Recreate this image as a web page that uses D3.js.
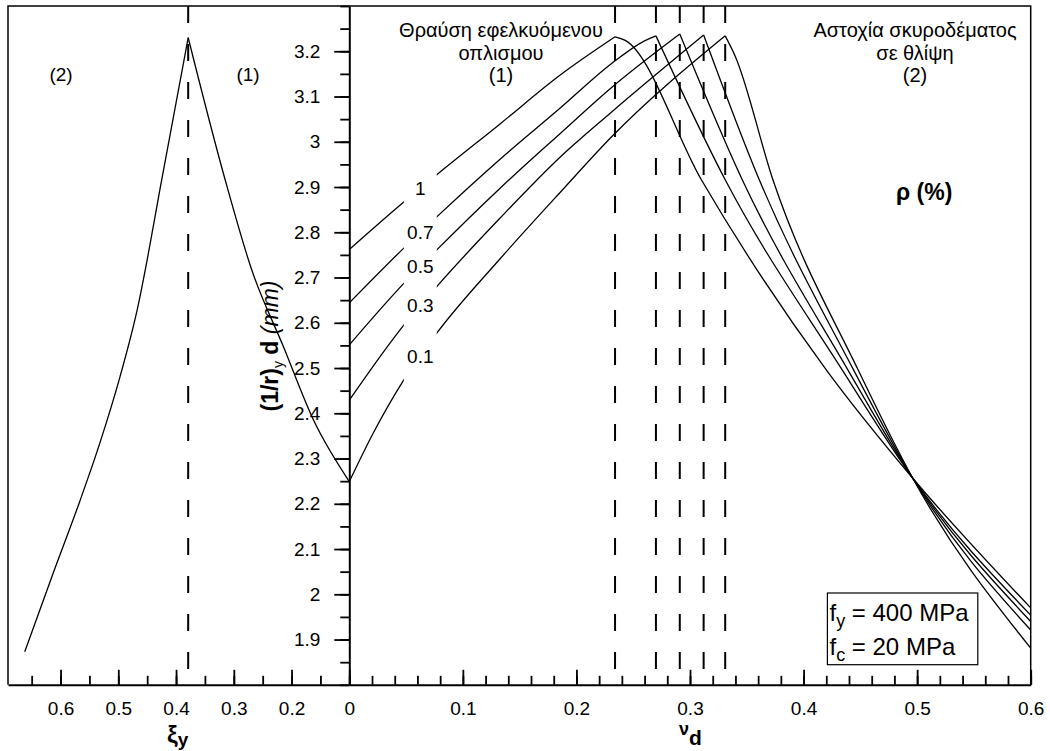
<!DOCTYPE html>
<html>
<head>
<meta charset="utf-8">
<script src="https://cdn.jsdelivr.net/npm/d3@7"></script>
<style>
    body { margin: 0; background: #fff; }
    svg text { font-family: "Liberation Sans", Arial, sans-serif; fill: #000; }
</style>
</head>
<body>
<div id="container"></div>
<script>
'use strict';

//Right panel: curves per reinforcement ratio, [nu_d, (1/r)y d]
const rhoLabels = ['1', '0.7', '0.5', '0.3', '0.1'];
const curveRho1 = [[0, 2.762], [0.048, 2.867], [0.077, 2.927], [0.133, 3.040], [0.186, 3.148], [0.234, 3.232], [0.243, 3.224], [0.310, 2.916], [0.420, 2.496], [0.496, 2.257], [0.600, 1.970]];
const curveRho07 = [[0, 2.644], [0.048, 2.765], [0.077, 2.834], [0.133, 2.962], [0.186, 3.075], [0.231, 3.173], [0.260, 3.223], [0.270, 3.234], [0.331, 2.916], [0.434, 2.496], [0.496, 2.257], [0.600, 1.954]];
const curveRho05 = [[0, 2.551], [0.048, 2.687], [0.077, 2.761], [0.133, 2.898], [0.186, 3.019], [0.231, 3.120], [0.291, 3.238], [0.346, 2.916], [0.439, 2.496], [0.496, 2.257], [0.600, 1.940]];
const curveRho03 = [[0, 2.429], [0.048, 2.595], [0.077, 2.680], [0.133, 2.832], [0.186, 2.967], [0.231, 3.066], [0.312, 3.236], [0.361, 2.916], [0.444, 2.496], [0.496, 2.257], [0.600, 1.921]];
const curveRho01 = [[0, 2.249], [0.021, 2.356], [0.048, 2.474], [0.077, 2.577], [0.133, 2.742], [0.186, 2.889], [0.231, 3.011], [0.331, 3.234], [0.340, 3.188], [0.373, 2.916], [0.448, 2.496], [0.496, 2.257], [0.600, 1.881]];
const curves = [curveRho1, curveRho07, curveRho05, curveRho03, curveRho01];
const peakNu = [0.234, 0.270, 0.291, 0.312, 0.331];
const labelGap = [0.048, 0.077];

//Left panel: [xi_y, (1/r)y d]
const branchConcrete = [[0.662, 1.873], [0.613, 2.046], [0.566, 2.208], [0.532, 2.334], [0.497, 2.481], [0.466, 2.636], [0.450, 2.739], [0.428, 2.894], [0.379, 3.230]];
const branchSteel = [[0.379, 3.230], [0.315, 2.916], [0.269, 2.717], [0.214, 2.547], [0.162, 2.385], [0.100, 2.249]];
const peakXi = [0.379];

//Tick labels
const yTicks = [1.9, 2, 2.1, 2.2, 2.3, 2.4, 2.5, 2.6, 2.7, 2.8, 2.9, 3, 3.1, 3.2];
const nuTicks = [0, 0.1, 0.2, 0.3, 0.4, 0.5, 0.6];
const xiTicks = [0.6, 0.5, 0.4, 0.3, 0.2];

//Sizing
const VIZ = {
    WIDTH: 1050,
    HEIGHT: 751,
    LEFT: 8,
    SPLIT: 349.3,
    RIGHT: 1030.7,
    TOP: 6,
    BOTTOM: 684.8,
};
const FONT = 19;

const svg = d3.select('#container')
    .append('svg')
    .attr('width', VIZ.WIDTH)
    .attr('height', VIZ.HEIGHT);

//Scales
const xNu = d3.scaleLinear().domain([0, 0.6]).range([VIZ.SPLIT, VIZ.RIGHT]);
const xXi = d3.scaleLinear().domain([0.1, 0.691]).range([VIZ.SPLIT, VIZ.LEFT]);
const y = d3.scaleLinear().domain([1.8, 3.3]).range([VIZ.BOTTOM, VIZ.TOP]);

//Frame
svg.append('path')
    .attr('d', `M${VIZ.LEFT},${VIZ.BOTTOM}V${VIZ.TOP}H${VIZ.RIGHT}V${VIZ.BOTTOM}`)
    .attr('fill', 'none')
    .attr('stroke', '#000')
    .attr('stroke-width', 1.5);

//Gap in the curves where the rho labels sit
const defs = svg.append('defs');
const mask = defs.append('mask').attr('id', 'gap');
mask.append('rect').attr('width', VIZ.WIDTH).attr('height', VIZ.HEIGHT).attr('fill', '#fff');
mask.append('rect')
    .attr('x', xNu(labelGap[0]))
    .attr('width', xNu(labelGap[1]) - xNu(labelGap[0]))
    .attr('y', y(3.0))
    .attr('height', y(2.35) - y(3.0))
    .attr('fill', '#000');

//Dashed lines at the balanced points
const dashed = [...peakXi.map(d => xXi(d)), ...peakNu.map(d => xNu(d))];
svg.append('g').selectAll('line')
    .data(dashed)
    .join('line')
    .attr('x1', d => d).attr('x2', d => d)
    .attr('y1', VIZ.TOP).attr('y2', VIZ.BOTTOM)
    .attr('stroke', '#000')
    .attr('stroke-width', 2)
    .attr('stroke-dasharray', '17,21');

//Curves
const lineNu = d3.line().x(d => xNu(d[0])).y(d => y(d[1])).curve(d3.curveMonotoneX);
const lineXi = d3.line().x(d => xXi(d[0])).y(d => y(d[1])).curve(d3.curveMonotoneX);

const curveGroup = svg.append('g')
    .attr('mask', 'url(#gap)')
    .attr('fill', 'none')
    .attr('stroke', '#000')
    .attr('stroke-width', 1.3);

curves.forEach(pts => {
    const peak = d3.maxIndex(pts, d => d[1]);
    curveGroup.append('path').attr('d', lineNu(pts.slice(0, peak + 1)));
    curveGroup.append('path').attr('d', lineNu(pts.slice(peak)));
});
curveGroup.append('path').attr('d', lineXi(branchConcrete));
curveGroup.append('path').attr('d', lineXi(branchSteel));

//rho labels inside the gap
function valueAt(pts, nu) {
    const i = d3.bisector(d => d[0]).left(pts, nu);
    if (pts[i][0] === nu || i === 0) return pts[i][1];
    const a = pts[i - 1], b = pts[i];
    return a[1] + (b[1] - a[1]) * (nu - a[0]) / (b[0] - a[0]);
}
curves.forEach((pts, i) => {
    const v = (valueAt(pts, labelGap[0]) + valueAt(pts, labelGap[1])) / 2;
    createText(svg, 'rho-label', rhoLabels[i], xNu(d3.mean(labelGap)), y(v))
        .attr('text-anchor', 'middle')
        .attr('dy', '0.35em')
        .attr('font-size', FONT);
});

//Axes
drawAxis(d3.axisLeft(y).tickValues(y.ticks(30)).tickSize(9).tickFormat(''), VIZ.SPLIT, 0, false);
drawAxis(d3.axisLeft(y).tickValues(yTicks).tickSize(15).tickPadding(14).tickFormat(d3.format('~g')), VIZ.SPLIT, 0, true);
drawAxis(d3.axisBottom(xNu).tickValues(xNu.ticks(30)).tickSize(-9).tickFormat(''), 0, VIZ.BOTTOM, false);
drawAxis(d3.axisBottom(xNu).tickValues(nuTicks).tickSize(-15).tickPadding(16.5).tickFormat(d3.format('~g')), 0, VIZ.BOTTOM, true);
drawAxis(d3.axisBottom(xXi).tickValues(xXi.ticks(12)).tickSize(-9).tickFormat(''), 0, VIZ.BOTTOM, false);
drawAxis(d3.axisBottom(xXi).tickValues(xiTicks).tickSize(-15).tickPadding(16.5).tickFormat(d3.format('~g')), 0, VIZ.BOTTOM, true);

//Region notes
createText(svg, 'note', '(2)', 61, 81).attr('text-anchor', 'middle').attr('font-size', FONT);
createText(svg, 'note', '(1)', 248, 81).attr('text-anchor', 'middle').attr('font-size', FONT);
['Θραύση εφελκυόμενου', 'οπλισμου', '(1)'].forEach((t, i) => {
    createText(svg, 'note', t, 501, 37 + i * 22.5).attr('text-anchor', 'middle').attr('font-size', 20);
});
['Αστοχία σκυροδέματος', 'σε θλίψη', '(2)'].forEach((t, i) => {
    createText(svg, 'note', t, 915, 37 + i * 22.5).attr('text-anchor', 'middle').attr('font-size', 20);
});
createText(svg, 'rho-title', 'ρ (%)', 896, 200).attr('font-size', 23).attr('font-weight', 'bold');

//Axis titles
const yTitle = svg.append('text')
    .attr('transform', 'translate(278,346) rotate(-90)')
    .attr('text-anchor', 'middle')
    .attr('font-size', 23);
yTitle.append('tspan').attr('font-weight', 'bold').text('(1/r)');
yTitle.append('tspan').attr('font-size', 14).attr('dy', 5).text('y');
yTitle.append('tspan').attr('font-weight', 'bold').attr('dy', -5).text(' d ');
yTitle.append('tspan').attr('font-style', 'italic').text('(mm)');

const xiTitle = svg.append('text').attr('x', 167).attr('y', 743).attr('font-weight', 'bold');
xiTitle.append('tspan').attr('font-size', 24).text('ξ');
xiTitle.append('tspan').attr('font-size', 19).attr('dy', 3).text('y');

const nuTitle = svg.append('text').attr('x', 679).attr('y', 735).attr('font-weight', 'bold');
nuTitle.append('tspan').attr('font-size', 18).text('ν');
nuTitle.append('tspan').attr('font-size', 21).attr('dy', 10).text('d');

//Material box
svg.append('rect')
    .attr('x', 827.4).attr('y', 593)
    .attr('width', 150.4).attr('height', 71.7)
    .attr('fill', '#fff')
    .attr('stroke', '#000')
    .attr('stroke-width', 1.2);
[['f', 'y', ' = 400 MPa', 621], ['f', 'c', ' = 20 MPa', 655]].forEach(([a, sub, rest, base]) => {
    const t = svg.append('text').attr('x', 829.5).attr('y', base).attr('font-size', 24);
    t.append('tspan').text(a);
    t.append('tspan').attr('font-size', 18).attr('dy', 6).text(sub);
    t.append('tspan').attr('dy', -6).text(rest);
});

//Create axis
function drawAxis(axis, left, top, labelled) {
    const g = svg.append('g')
        .attr('transform', `translate(${left},${top})`)
        .call(axis.tickSizeOuter(0));
    g.selectAll('.tick line').attr('stroke-width', 1.8);
    g.selectAll('.tick text').attr('font-size', FONT).attr('font-family', null);
    if (labelled) {
        g.select('.domain').attr('stroke-width', 2);
    } else {
        g.select('.domain').remove();
    }
    return g;
}

//Create text function
function createText(place, txtClass, text, x = 0, y = 0) {
    return place.append('text')
        .attr('class', `${txtClass}`)
        .attr('x', x)
        .attr('y', y)
        .text(text);
}
</script>
</body>
</html>
